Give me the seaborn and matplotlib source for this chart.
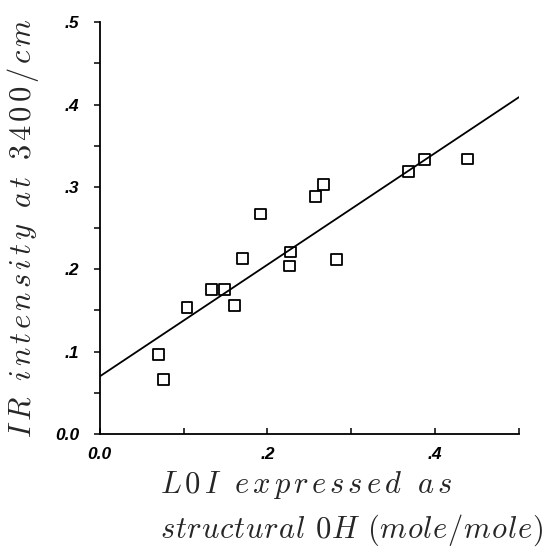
#!/usr/bin/env python

import matplotlib
matplotlib.use("Agg")
import matplotlib.pyplot as plt
import matplotlib.ticker as mticker
import numpy as np
import pandas as pd
import seaborn as sns

# values
loi = [0.070, 0.076, 0.104, 0.133, 0.149, 0.161, 0.170, 0.192, 0.227,
       0.226, 0.257, 0.267, 0.282, 0.368, 0.387, 0.439]
ir = [0.097, 0.066, 0.154, 0.175, 0.175, 0.156, 0.213, 0.267, 0.221,
      0.204, 0.288, 0.303, 0.212, 0.319, 0.333, 0.334]
fit_intercept = 0.070
fit_slope = 0.678

xticks_major = [0.0, 0.2, 0.4]
yticks_major = [0.0, 0.1, 0.2, 0.3, 0.4, 0.5]

ylabel_text = "IR intensity at 3400/cm"
xlabel_lines = ["L0I expressed as", "structural 0H (mole/mole)"]


def fmt(v, pos):
	if abs(v) < 1e-9:
		return "0.0"
	return ("%.1f" % v).lstrip("0")


def spaced(s, gap):
	# math italic with loose letter spacing, like the old plot
	parts = []
	for ch in s:
		parts.append(r"\ " if ch == " " else ch)
	return "$" + (r"\hspace{%g}" % gap).join(parts) + "$"


def main():
	sns.set_style("ticks")
	plt.rcParams["mathtext.fontset"] = "cm"
	plt.rcParams["font.family"] = ["Liberation Sans", "DejaVu Sans"]

	df = pd.DataFrame({"loi": loi, "ir": ir})

	fig = plt.figure(figsize=(5.53, 5.48), dpi=100)
	ax = fig.add_axes([0.1805, 0.208, 0.758, 0.7515])

	xs = np.array([0.0, 0.5])
	ax.plot(xs, fit_intercept + fit_slope * xs, color="black", lw=1.3, zorder=2)

	sns.scatterplot(data=df, x="loi", y="ir", ax=ax, marker="s", s=60,
					facecolor="none", edgecolor="black", linewidth=1.3, zorder=3)

	ax.set_xlim(0, 0.5)
	ax.set_ylim(0, 0.5)
	sns.despine(ax=ax)
	for sp in ["left", "bottom"]:
		ax.spines[sp].set_linewidth(1.3)
		ax.spines[sp].set_color("black")

	ax.xaxis.set_major_locator(mticker.FixedLocator(xticks_major))
	ax.xaxis.set_minor_locator(mticker.MultipleLocator(0.1))
	ax.yaxis.set_major_locator(mticker.FixedLocator(yticks_major))
	ax.yaxis.set_minor_locator(mticker.MultipleLocator(0.05))
	ax.xaxis.set_major_formatter(mticker.FuncFormatter(fmt))
	ax.yaxis.set_major_formatter(mticker.FuncFormatter(fmt))

	ax.tick_params(axis="x", which="both", direction="in", length=4, width=1.1,
				   colors="black", pad=9)
	ax.tick_params(axis="y", which="both", direction="out", length=4, width=1.1,
				   colors="black", pad=11)
	for lab in ax.get_xticklabels() + ax.get_yticklabels():
		lab.set_fontstyle("italic")
		lab.set_fontsize(12.5)
		lab.set_fontweight("bold")

	ax.set_ylabel(spaced(ylabel_text, 0.15), fontsize=22, labelpad=10)
	xl = spaced(xlabel_lines[0], 0.15) + "\n" + spaced(xlabel_lines[1], 0.03)
	ax.set_xlabel(xl, fontsize=22, ha="left", multialignment="left",
				  linespacing=1.45)
	ax.xaxis.set_label_coords((160 - 99.8) / 419.2, -0.085)
	ax.xaxis.label.set_verticalalignment("top")

	plt.savefig("out.png", dpi=100)


if __name__ == '__main__':
	main()
